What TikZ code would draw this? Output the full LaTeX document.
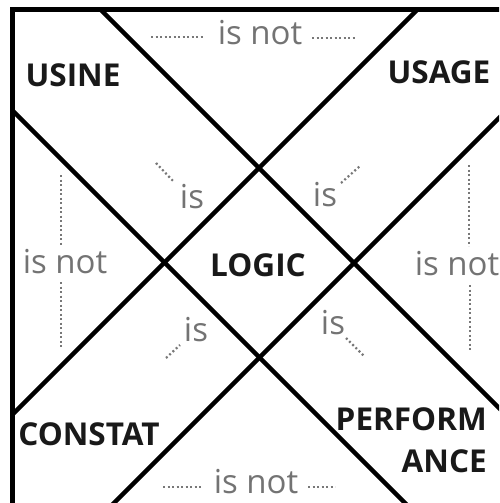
\documentclass[tikz,border=0pt]{standalone}
\usepackage{fontspec}
\setmainfont{Open Sans}
\definecolor{isgray}{RGB}{115,115,115}
\definecolor{dotgray}{RGB}{120,120,120}

\begin{document}
\begin{tikzpicture}[x=1pt,y=-1pt,
   label/.style={font=\fontsize{31.5}{42}\selectfont\bfseries, text=black!90, inner sep=0pt},
   rel/.style={font=\fontsize{33}{38}\selectfont, text=isgray, inner sep=0pt},
   leader/.style={dotgray, line width=2.2pt, dash pattern=on 2pt off 2.5pt}]
   \useasboundingbox (0,0) rectangle (499,503);
   \clip (0,0) rectangle (499,503);
   \draw[line width=5pt] (12,9.5) rectangle (560,560);
   \begin{scope}
      \clip (12,9.5) rectangle (499,503);
      \draw[line width=4.4pt] (80,-11) -- (620,529);
      \draw[line width=4.4pt] (-100,-2) -- (500,598);
      \draw[line width=4.4pt] (437,-10) -- (-10,437);
      \draw[line width=4.4pt] (627,-10) -- (-10,627);
   \end{scope}
   % the five boxes
   \node[label, anchor=base] (usine) at (73,86) {USINE};
   \node[label, anchor=base] (usage) at (439,83) {USAGE};
   \node[label, anchor=base] (logic) at (258,276) {LOGIC};
   \node[label, anchor=base] (constat) at (89,445) {CONSTAT};
   \node[label, anchor=north east, align=right] (perform) at (487,407) {PERFORM\\ANCE};
   % is not
   \node[rel, anchor=base] (isnotT) at (260,45) {is not};
   \node[rel, anchor=base] (isnotL) at (65,273) {is not};
   \node[rel, anchor=base] (isnotR) at (457,275) {is not};
   \node[rel, anchor=base] (isnotB) at (256,493) {is not};
   \draw[leader] (151,37) -- (203,37);
   \draw[leader] (312,38) -- (356,38);
   \draw[leader] (61,175) -- (61,245);
   \draw[leader] (61,282) -- (61,348);
   \draw[leader] (469,165) -- (469,246);
   \draw[leader] (470,285) -- (470,352);
   \draw[leader] (163,487) -- (202,487);
   \draw[leader] (308,487) -- (335,487);
   % is
   \node[rel, anchor=base] (isTL) at (192,208) {is};
   \node[rel, anchor=base] (isTR) at (325,206) {is};
   \node[rel, anchor=base] (isBL) at (196,341) {is};
   \node[rel, anchor=base] (isBR) at (333,334) {is};
   \draw[leader] (156,163) -- (174,182);
   \draw[leader] (341,183) -- (360,166);
   \draw[leader] (166,358) -- (180,345);
   \draw[leader] (346,338) -- (365,357);
\end{tikzpicture}
\end{document}
